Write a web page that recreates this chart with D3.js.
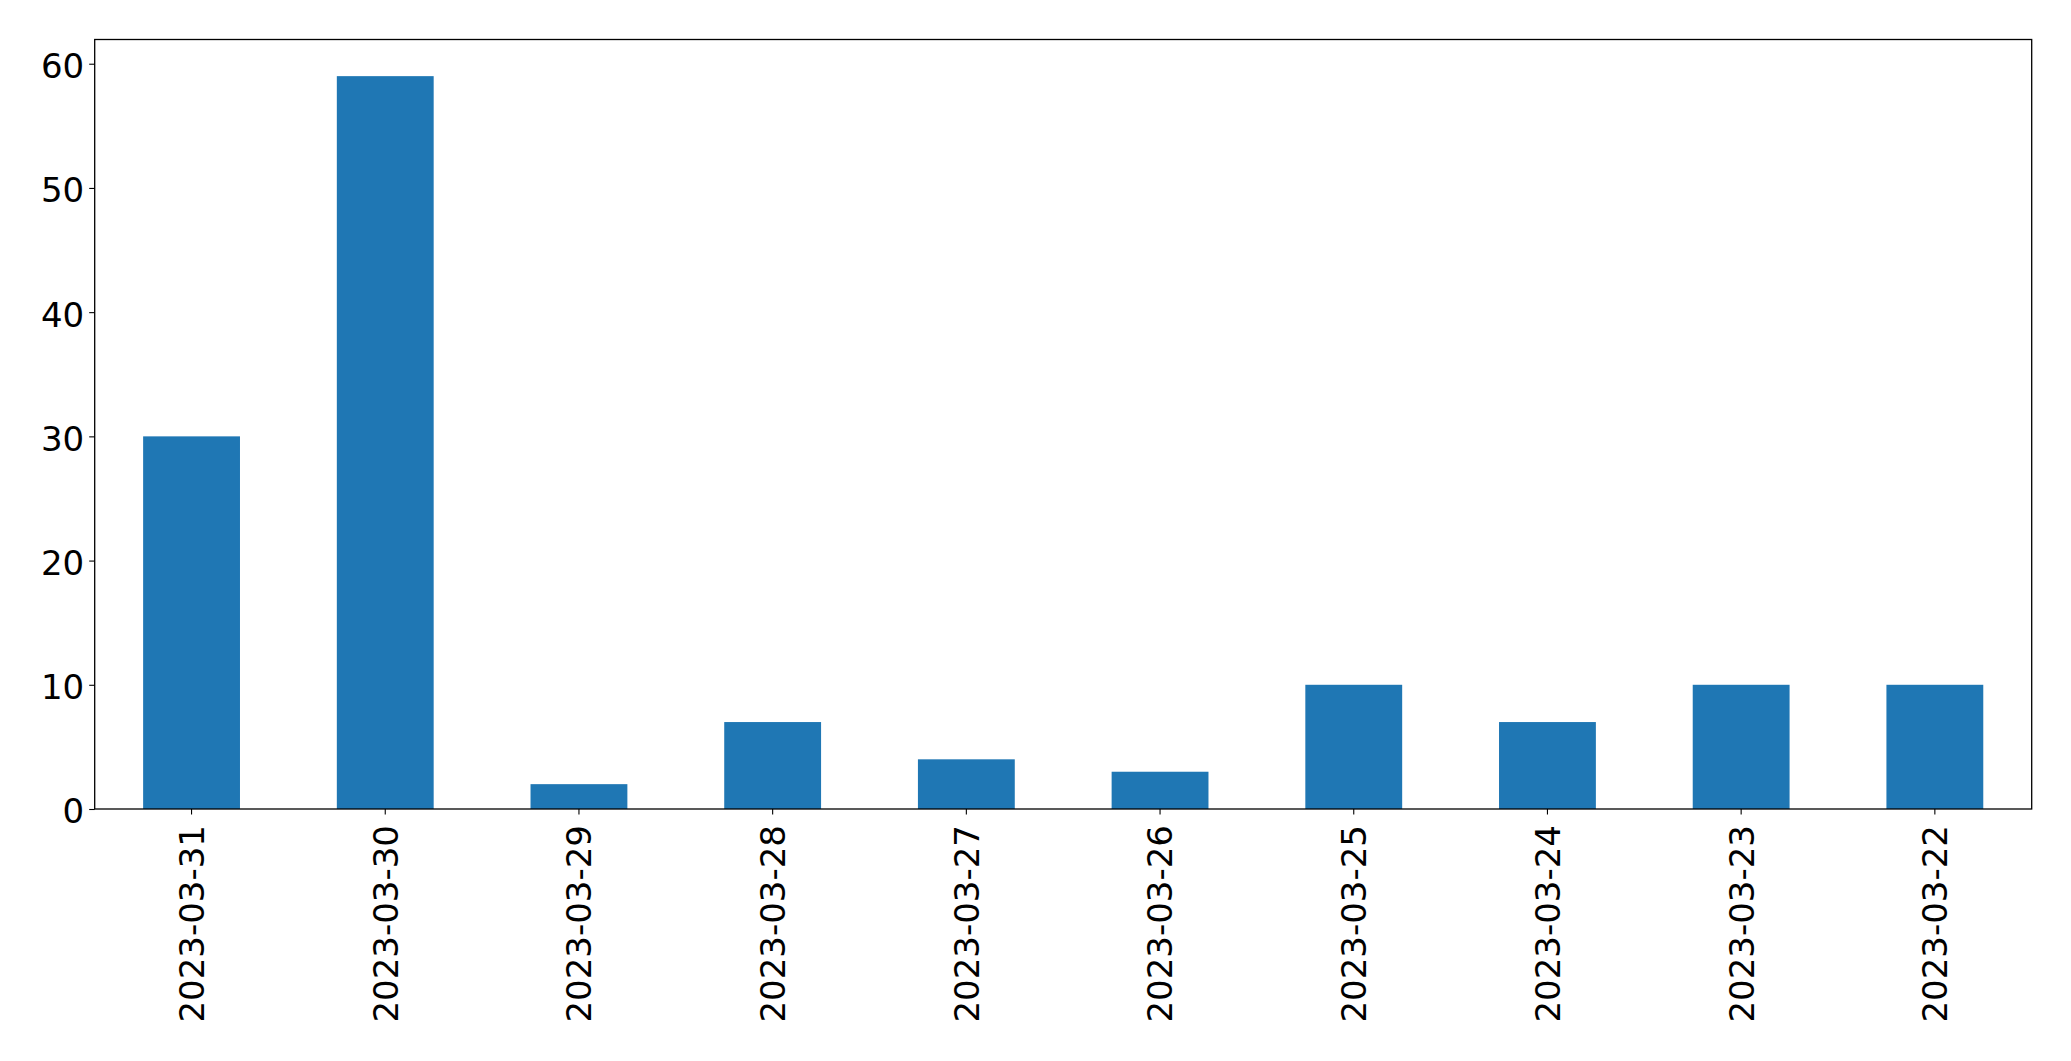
<!DOCTYPE html>
<html>
<head>
<meta charset="utf-8">
<script src="https://cdn.jsdelivr.net/npm/d3@7"></script>
<style>
  html, body { margin: 0; padding: 0; background: #fff; }
  svg { display: block; }
  text { font-family: "DejaVu Sans", sans-serif; }
</style>
</head>
<body>
<script>
const categories = ["2023-03-31","2023-03-30","2023-03-29","2023-03-28","2023-03-27","2023-03-26","2023-03-25","2023-03-24","2023-03-23","2023-03-22"];
const values = [30, 59, 2, 7, 4, 3, 10, 7, 10, 10];
const yTicks = [0, 10, 20, 30, 40, 50, 60];

const W = 2071, H = 1061;
const mLeft = 94.7, mRight = 2031.7, mTop = 39.5, mBottom = 809;

const svg = d3.select("body").append("svg").attr("width", W).attr("height", H);

const x = d3.scaleBand().domain(categories).range([mLeft, mRight]).paddingInner(0.5).paddingOuter(0.25);
const y = d3.scaleLinear().domain([0, d3.max(values) * 1.05]).range([mBottom, mTop]);

svg.append("g").selectAll("rect").data(values).join("rect")
  .attr("x", (d, i) => x(categories[i]))
  .attr("width", x.bandwidth())
  .attr("y", d => y(d))
  .attr("height", d => y(0) - y(d))
  .attr("fill", "#1f77b4");

// frame
svg.append("rect")
  .attr("x", mLeft).attr("y", mTop)
  .attr("width", mRight - mLeft).attr("height", mBottom - mTop)
  .attr("fill", "none").attr("stroke", "#000").attr("stroke-width", 1.3);

// y axis
const yAxis = svg.append("g").attr("transform", `translate(${mLeft},0)`)
  .call(d3.axisLeft(y).tickValues(yTicks).tickSize(5.5).tickPadding(5).tickFormat(d3.format("d")));
yAxis.select(".domain").remove();
yAxis.selectAll(".tick line").attr("stroke", "#000").attr("stroke-width", 1.1);
yAxis.selectAll(".tick text").attr("font-size", "34px").attr("fill", "#000")
  .attr("font-family", "DejaVu Sans, sans-serif").attr("dy", "0.41em");

// x axis
const xAxis = svg.append("g").attr("transform", `translate(0,${mBottom})`)
  .call(d3.axisBottom(x).tickSize(5.5).tickPadding(0));
xAxis.select(".domain").remove();
xAxis.selectAll(".tick line").attr("stroke", "#000").attr("stroke-width", 1.1);
xAxis.selectAll(".tick text")
  .attr("font-size", "34px").attr("fill", "#000")
  .attr("font-family", "DejaVu Sans, sans-serif")
  .attr("text-anchor", "end")
  .attr("transform", "translate(0,16) rotate(-90)")
  .attr("x", 0).attr("y", 0).attr("dy", "0.365em");
</script>
</body>
</html>
